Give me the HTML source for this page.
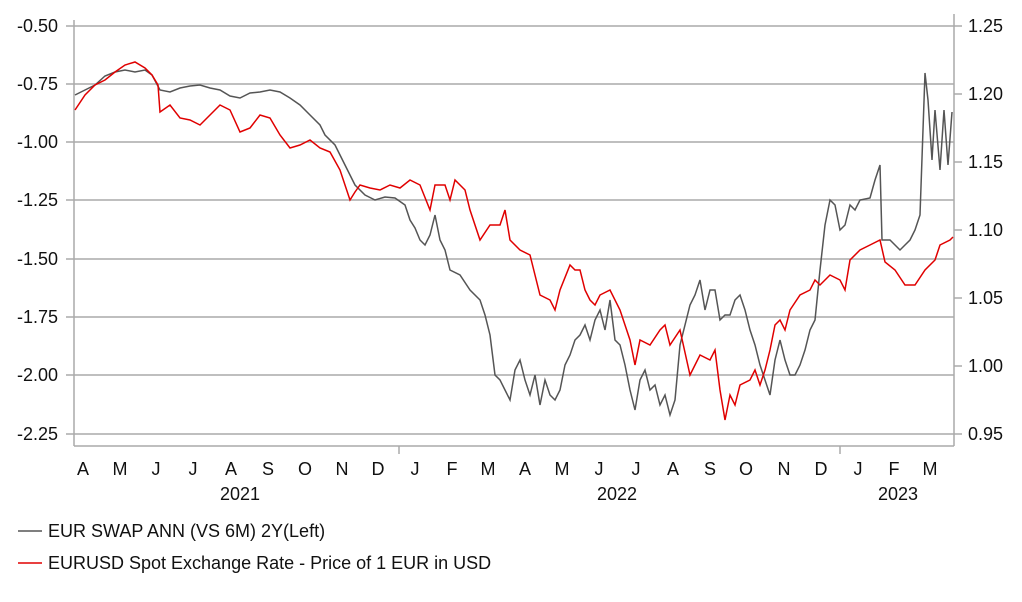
<!DOCTYPE html>
<html><head><style>
body{margin:0;background:#fff;}
svg text{font-family:"Liberation Sans",Arial,sans-serif;fill:#111;}
</style></head><body>
<svg width="1022" height="597" xmlns="http://www.w3.org/2000/svg">
<g stroke="#aaa" stroke-width="1.5">
<line x1="66" y1="26" x2="954" y2="26"/>
<line x1="66" y1="84" x2="954" y2="84"/>
<line x1="66" y1="142" x2="954" y2="142"/>
<line x1="66" y1="200" x2="954" y2="200"/>
<line x1="66" y1="259" x2="954" y2="259"/>
<line x1="66" y1="317" x2="954" y2="317"/>
<line x1="66" y1="375" x2="954" y2="375"/>
<line x1="66" y1="434" x2="954" y2="434"/>
<line x1="74" y1="20" x2="74" y2="446"/>
<line x1="954" y1="14" x2="954" y2="446"/>
<line x1="74" y1="446" x2="954" y2="446"/>
<line x1="954" y1="26" x2="962" y2="26"/>
<line x1="954" y1="94" x2="962" y2="94"/>
<line x1="954" y1="162" x2="962" y2="162"/>
<line x1="954" y1="230" x2="962" y2="230"/>
<line x1="954" y1="298" x2="962" y2="298"/>
<line x1="954" y1="366" x2="962" y2="366"/>
<line x1="954" y1="434" x2="962" y2="434"/>
<line x1="399" y1="446" x2="399" y2="454"/>
<line x1="840" y1="446" x2="840" y2="454"/>
</g>
<g font-size="18" text-anchor="end">
<text x="58" y="32">-0.50</text><text x="58" y="90">-0.75</text><text x="58" y="148">-1.00</text><text x="58" y="206">-1.25</text><text x="58" y="265">-1.50</text><text x="58" y="323">-1.75</text><text x="58" y="381">-2.00</text><text x="58" y="440">-2.25</text>
</g>
<g font-size="18">
<text x="968" y="32">1.25</text><text x="968" y="100">1.20</text><text x="968" y="168">1.15</text><text x="968" y="236">1.10</text><text x="968" y="304">1.05</text><text x="968" y="372">1.00</text><text x="968" y="440">0.95</text>
</g>
<g font-size="18" text-anchor="middle">
<text x="83" y="475">A</text><text x="120" y="475">M</text><text x="156" y="475">J</text><text x="193" y="475">J</text><text x="231" y="475">A</text><text x="268" y="475">S</text><text x="305" y="475">O</text><text x="342" y="475">N</text><text x="378" y="475">D</text><text x="415" y="475">J</text><text x="452" y="475">F</text><text x="488" y="475">M</text><text x="525" y="475">A</text><text x="562" y="475">M</text><text x="599" y="475">J</text><text x="636" y="475">J</text><text x="673" y="475">A</text><text x="710" y="475">S</text><text x="746" y="475">O</text><text x="784" y="475">N</text><text x="821" y="475">D</text><text x="858" y="475">J</text><text x="894" y="475">F</text><text x="930" y="475">M</text>
<text x="240" y="500">2021</text><text x="617" y="500">2022</text><text x="898" y="500">2023</text>
</g>
<polyline fill="none" stroke="#555" stroke-width="1.5" points="75,95 85,90 95,85 105,76 115,72 125,70 135,72 145,70 152,75 160,90 170,92 180,88 190,86 200,85 210,88 220,90 230,96 240,98 250,93 260,92 270,90 280,92 290,98 300,105 310,115 320,125 325,135 335,145 345,165 355,185 365,195 375,200 385,197 395,198 405,205 410,220 415,228 420,240 425,245 430,235 435,215 440,240 445,250 450,270 460,275 470,290 480,300 485,315 490,335 495,375 500,380 505,390 510,400 515,370 520,360 525,380 530,395 535,375 540,405 545,380 550,395 555,400 560,390 565,365 570,355 575,340 580,335 585,325 590,340 595,320 600,310 605,330 610,300 615,340 620,345 625,365 630,390 635,410 640,380 645,370 650,390 655,385 660,405 665,395 670,415 675,400 680,345 690,305 695,295 700,280 705,310 710,290 715,290 720,320 725,315 730,315 735,300 740,295 745,310 750,330 755,345 760,365 765,380 770,395 775,360 780,340 785,360 790,375 795,375 800,365 805,350 810,330 815,320 820,270 825,225 830,200 835,205 840,230 845,225 850,205 855,210 860,200 870,198 875,180 880,165 882,240 890,240 900,250 905,245 910,240 915,230 920,215 925,73 928,100 932,160 935,110 940,170 944,110 948,165 952,112"/>
<polyline fill="none" stroke="#e00000" stroke-width="1.5" points="75,110 85,95 95,85 105,80 115,72 125,65 135,62 145,68 152,75 158,85 160,112 170,105 180,118 190,120 200,125 210,115 220,105 230,110 240,132 250,128 260,115 270,118 280,135 290,148 300,145 310,140 320,148 330,152 340,170 350,200 355,192 360,185 370,188 380,190 390,185 400,188 410,180 420,185 430,210 435,185 445,185 450,200 455,180 465,190 470,210 480,240 490,225 500,225 505,210 510,240 520,250 530,255 540,295 550,300 555,310 560,290 570,265 575,270 580,270 585,290 590,300 595,305 600,295 610,290 620,310 625,325 630,340 635,365 640,340 650,345 660,330 665,325 670,345 680,330 690,375 700,355 710,360 715,350 720,390 725,420 730,395 735,405 740,385 750,380 755,370 760,385 765,370 770,350 775,325 780,320 785,330 790,310 800,295 810,290 815,280 820,285 830,275 840,280 845,290 850,260 860,250 870,245 880,240 885,262 895,270 905,285 915,285 925,270 935,260 940,245 950,240 953,237"/>
<line x1="18" y1="531" x2="42" y2="531" stroke="#555" stroke-width="1.5"/>
<text x="48" y="537" font-size="18">EUR SWAP ANN (VS 6M) 2Y(Left)</text>
<line x1="18" y1="563" x2="42" y2="563" stroke="#e00000" stroke-width="1.5"/>
<text x="48" y="569" font-size="18">EURUSD Spot Exchange Rate - Price of 1 EUR in USD</text>
</svg>
</body></html>
